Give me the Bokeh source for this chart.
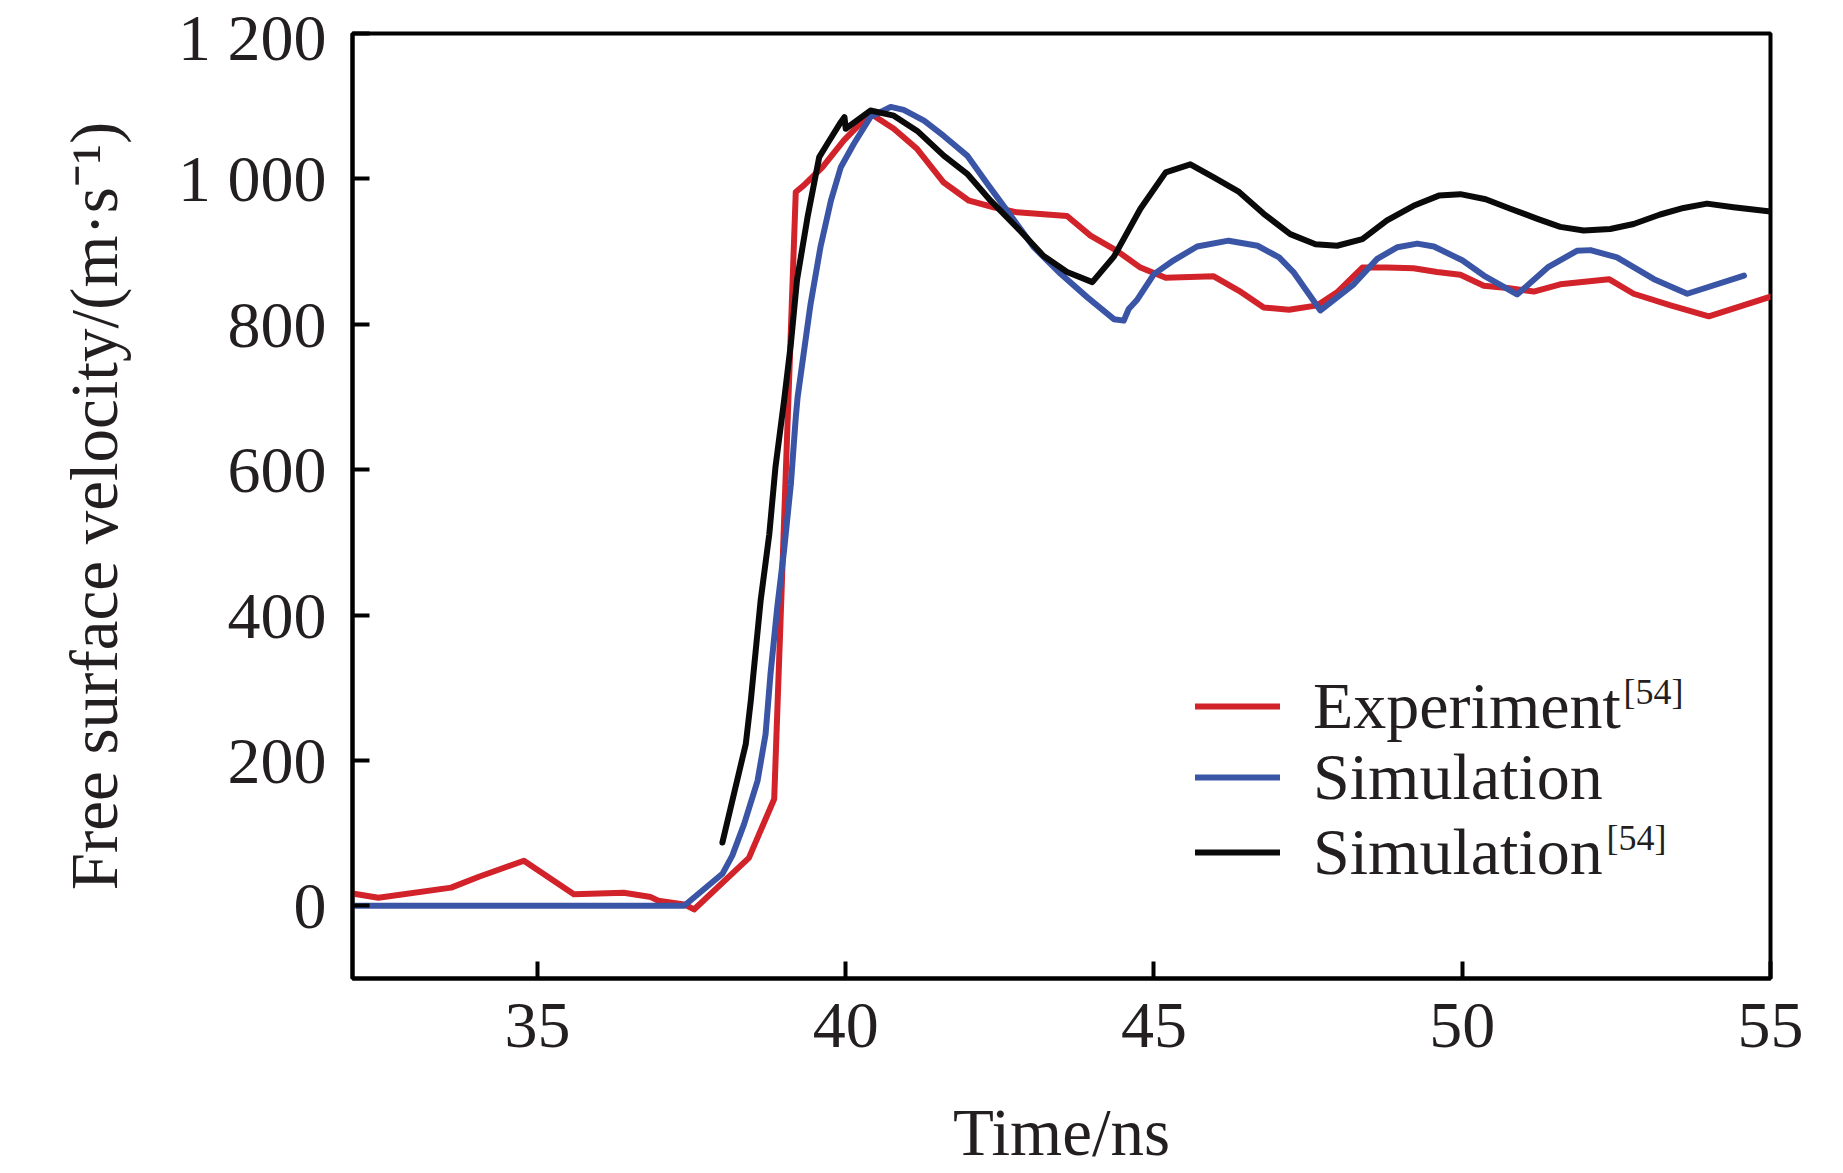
from bokeh.plotting import figure
from bokeh.models import Range1d, FixedTicker, Legend, LegendItem, Label
from bokeh.embed import file_html
from bokeh.resources import INLINE

# ---- data ----
exp_t = [32.0, 32.42, 33.6, 34.05, 34.78, 35.59, 36.40, 36.84, 36.96, 37.38, 37.54,
         38.43, 38.84, 39.19, 39.32, 39.62, 39.97, 40.40, 40.78, 41.16, 41.59, 42.0,
         42.40, 42.78, 43.59, 43.97, 44.40, 44.78, 45.19, 45.97, 46.38, 46.78, 47.19,
         47.65, 47.97, 48.38, 48.78, 49.21, 49.59, 49.97, 50.35, 50.73, 51.16, 51.59,
         52.38, 52.78, 53.38, 54.0, 55.0]
exp_v = [17, 11, 25, 40, 62, 16, 18, 12, 7, 2, -5,
         66, 147, 982, 991, 1016, 1053, 1090, 1069, 1041, 995, 970,
         961, 954, 949, 922, 901, 878, 864, 866, 846, 823, 820,
         826, 844, 878, 878, 877, 872, 868, 853, 850, 845, 855,
         862, 842, 826, 811, 838]

sim_t = [32.0, 37.38, 38.0, 38.16, 38.35, 38.57, 38.70, 38.78, 38.89, 39.0, 39.11,
         39.19, 39.22, 39.43, 39.59, 39.76, 39.92, 40.13, 40.40, 40.73, 40.94, 41.27,
         41.59, 41.97, 42.30, 42.62, 43.05, 43.49, 43.92, 44.35, 44.51, 44.59, 44.72,
         45.0, 45.32, 45.70, 46.21, 46.68, 47.03, 47.27, 47.70, 48.24, 48.62, 48.95,
         49.27, 49.54, 50.0, 50.35, 50.89, 51.40, 51.86, 52.08, 52.51, 53.11, 53.65,
         54.57]
sim_v = [0, 0, 44, 69, 112, 172, 236, 319, 411, 489, 580,
         672, 700, 828, 906, 970, 1016, 1048, 1085, 1099, 1095, 1080,
         1059, 1032, 993, 956, 906, 869, 837, 807, 805, 821, 833,
         869, 888, 907, 915, 908, 892, 871, 819, 855, 890, 906,
         911, 907, 888, 867, 841, 879, 901, 902, 892, 862, 842,
         867]

ref_t = [38.0, 38.38, 38.46, 38.62, 38.76, 38.86, 39.0, 39.11, 39.21, 39.38, 39.57,
         39.70, 39.92, 39.98, 40.0, 40.40, 40.78, 41.16, 41.59, 41.97, 42.35, 42.78,
         43.21, 43.59, 44.0, 44.35, 44.78, 45.19, 45.59, 45.97, 46.38, 46.78, 47.21,
         47.62, 47.97, 48.38, 48.78, 49.21, 49.62, 49.97, 50.38, 50.78, 51.22, 51.59,
         51.97, 52.40, 52.78, 53.21, 53.59, 53.97, 54.40, 55.0]
ref_v = [87, 223, 282, 420, 511, 603, 695, 773, 861, 947, 1030,
         1048, 1078, 1085, 1069, 1094, 1087, 1066, 1032, 1007, 970, 933,
         894, 872, 858, 893, 959, 1009, 1020, 1002, 982, 952, 924,
         910, 908, 917, 943, 963, 977, 979, 972, 959, 945, 934,
         929, 931, 938, 951, 960, 966, 961, 955]

x_ticks = [35, 40, 45, 50, 55]
y_ticks = [0, 200, 400, 600, 800, 1000, 1200]
y_tick_labels = {0: "0", 200: "200", 400: "400", 600: "600", 800: "800",
                 1000: "1 000", 1200: "1 200"}
series_labels = ["Experiment", "Simulation", "Simulation"]
sup_text = "[54]"
x_title = "Time/ns"
y_title = "Free surface velocity/(m·s⁻¹)"

RED = "#d2232b"
BLUE = "#3a55a5"
BLACK = "#0a0a0a"
TXT = "#231f20"
FONT = "Liberation Serif"

p = figure(width=1827, height=1173,
           x_range=Range1d(32, 55), y_range=Range1d(-100, 1200),
           output_backend="svg", toolbar_location=None,
           min_border_left=352, min_border_right=57,
           min_border_top=33, min_border_bottom=195)

p.xgrid.visible = False
p.ygrid.visible = False
p.outline_line_color = "black"
p.outline_line_width = 4
p.background_fill_color = "white"
p.border_fill_color = "white"

for ax in (p.xaxis[0], p.yaxis[0]):
    ax.axis_line_width = 4
    ax.axis_line_color = "black"
    ax.major_tick_line_width = 4
    ax.major_tick_line_color = "black"
    ax.major_tick_in = 17
    ax.major_tick_out = 0
    ax.minor_tick_line_color = None
    ax.major_label_text_font = FONT
    ax.major_label_text_font_size = "66px"
    ax.major_label_text_color = TXT
    ax.axis_label_text_font = FONT
    ax.axis_label_text_font_size = "67px"
    ax.axis_label_text_font_style = "normal"
    ax.axis_label_text_color = TXT

p.xaxis.ticker = FixedTicker(ticks=x_ticks)
p.yaxis.ticker = FixedTicker(ticks=y_ticks)
p.yaxis.major_label_overrides = y_tick_labels
p.xaxis.major_label_standoff = 25
p.yaxis.major_label_standoff = 26
p.xaxis.axis_label = x_title
p.yaxis.axis_label = y_title
p.xaxis.axis_label_standoff = 45
p.yaxis.axis_label_standoff = 44

r_exp = p.line(exp_t, exp_v, line_color=RED, line_width=6, line_join="round", line_cap="round")
r_sim = p.line(sim_t, sim_v, line_color=BLUE, line_width=6, line_join="round", line_cap="round")
r_ref = p.line(ref_t, ref_v, line_color=BLACK, line_width=6, line_join="round", line_cap="round")

# one single-row legend per series, so each row sits exactly where the reference has it
legend_rows = [(series_labels[0], r_exp, 234),
               (series_labels[1], r_sim, 163),
               (series_labels[2], r_ref, 88)]
for text, rend, ypos in legend_rows:
    lg = Legend(items=[LegendItem(label=text, renderers=[rend])],
                location=(843, ypos), padding=0, margin=0, spacing=0,
                glyph_width=85, glyph_height=74, label_height=74, label_standoff=33,
                label_text_font=FONT, label_text_font_size="66px",
                label_text_color=TXT, label_text_baseline="middle",
                border_line_alpha=0, background_fill_alpha=0)
    p.add_layout(lg)

sup1 = Label(x=1271, y=287, x_units="screen", y_units="screen", text=sup_text,
             text_font=FONT, text_font_size="36px", text_color=TXT,
             text_baseline="alphabetic")
sup3 = Label(x=1254, y=141, x_units="screen", y_units="screen", text=sup_text,
             text_font=FONT, text_font_size="36px", text_color=TXT,
             text_baseline="alphabetic")
p.add_layout(sup1)
p.add_layout(sup3)

open("out.html", "w").write(file_html(p, INLINE))
